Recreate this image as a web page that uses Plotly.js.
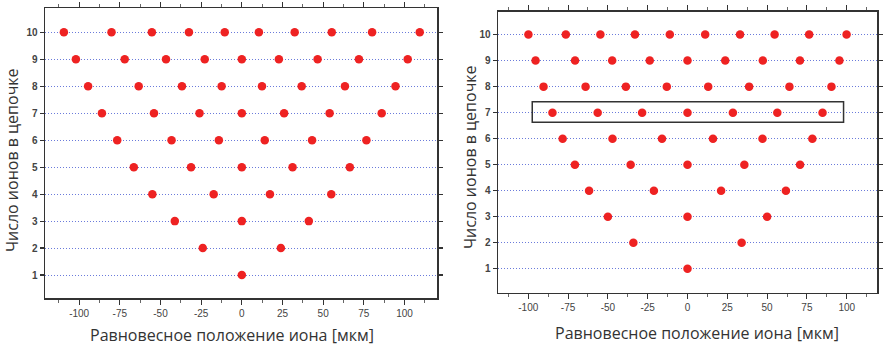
<!DOCTYPE html>
<html>
<head>
<meta charset="utf-8">
<script src="https://cdn.plot.ly/plotly-3.0.1.min.js"></script>
<style>html,body{margin:0;padding:0;background:#fff;}#chart{width:885px;height:345px;}</style>
</head>
<body>
<div id="chart"></div>
<script>
// Number of ions in the chain (row labels)
const ionCounts = [1, 2, 3, 4, 5, 6, 7, 8, 9, 10];

// Left panel: equilibrium positions (µm) for N = 1..10
const posLeft = [
  [0],
  [-24, 24],
  [-41.2, 0, 41.2],
  [-55, -17.3, 17.3, 55],
  [-66.4, -31.2, 0, 31.2, 66.4],
  [-76.6, -43.2, -14.1, 14.1, 43.2, 76.6],
  [-86, -54, -26, 0, 26, 54, 86],
  [-94.5, -63.4, -36.8, -12.4, 12.4, 36.8, 63.4, 94.5],
  [-102, -72, -46.6, -22.8, 0, 22.8, 46.6, 72, 102],
  [-109.4, -80.1, -55.3, -32.5, -10.5, 10.5, 32.5, 55.3, 80.1, 109.4]
];

// Right panel: equilibrium positions (µm) for N = 1..10
const posRight = [
  [0],
  [-34, 34],
  [-50, 0, 50],
  [-61.8, -21.1, 21.1, 61.8],
  [-70.7, -35.7, 0, 35.7, 70.7],
  [-78.4, -47.1, -16, 16, 47.1, 78.4],
  [-84.8, -56.4, -28.5, 0, 28.5, 56.4, 84.8],
  [-90.4, -64, -38.7, -13, 13, 38.7, 64, 90.4],
  [-95.4, -70.6, -47.3, -23.7, 0, 23.7, 47.3, 70.6, 95.4],
  [-99.9, -76.4, -54.7, -33, -11.1, 11.1, 33, 54.7, 76.4, 99.9]
];

// Highlighted chain in right panel
const highlightN = 7;

const xTickVals = [-100, -75, -50, -25, 0, 25, 50, 75, 100];
const xTickText = ['-100', '-75', '-50', '-25', '0', '25', '50', '75', '100'];
const xTitle = 'Равновесное положение иона [мкм]';
const yTitle = 'Число ионов в цепочке';

function flatten(pos) {
  const xs = [], ys = [];
  pos.forEach((row, i) => row.forEach(v => { xs.push(v); ys.push(ionCounts[i]); }));
  return {xs, ys};
}
const L = flatten(posLeft), R = flatten(posRight);

const marker = {color: '#ee2222', size: 8.5};
const traces = [
  {x: L.xs, y: L.ys, type: 'scatter', mode: 'markers', marker, xaxis: 'x', yaxis: 'y', hoverinfo: 'none'},
  {x: R.xs, y: R.ys, type: 'scatter', mode: 'markers', marker, xaxis: 'x2', yaxis: 'y2', hoverinfo: 'none'}
];

const tickFont = {family: 'Liberation Sans, Arial, sans-serif', size: 10, color: '#444'};
function xAxis(domain, range, anchor) {
  return {
    domain, range, anchor,
    tickvals: xTickVals, ticktext: xTickText,
    ticks: 'outside', ticklen: 5, tickwidth: 1, tickcolor: '#333',
    minor: {dtick: 12.5, tick0: 0, ticks: 'outside', ticklen: 3, tickcolor: '#666', showgrid: false},
    showline: true, linecolor: '#333', linewidth: 1.5, mirror: 'allticks',
    showgrid: false, zeroline: false, tickfont: tickFont
  };
}
function yAxis(domain, range, anchor) {
  return {
    domain, range, anchor,
    tickvals: ionCounts, ticktext: ionCounts.map(String),
    ticks: 'outside', ticklen: 4, tickwidth: 1.2, tickcolor: '#333',
    showline: true, linecolor: '#333', linewidth: 1.5, mirror: 'allticks',
    showgrid: true, gridcolor: 'rgba(70,90,210,0.8)', gridwidth: 1, griddash: '1px,2px',
    zeroline: false, tickfont: Object.assign({}, tickFont, {weight: 'bold'})
  };
}

const titleFont = {family: 'Open Sans, Noto Sans, sans-serif', size: 16, color: '#333'};
const layout = {
  width: 885, height: 345,
  margin: {l: 0, r: 0, t: 0, b: 0},
  paper_bgcolor: '#fff', plot_bgcolor: '#fff',
  showlegend: false,
  xaxis: xAxis([45/885, 437/885], [-121, 120], 'y'),
  yaxis: yAxis([1 - 298/345, 1 - 8/345], [0.15, 10.9], 'x'),
  xaxis2: xAxis([498/885, 877/885], [-119, 119], 'y2'),
  yaxis2: yAxis([1 - 292.7/345, 1 - 11.7/345], [0.08, 10.88], 'x2'),
  shapes: [
    {type: 'rect', xref: 'x2', yref: 'y2', x0: -97.5, x1: 98, y0: highlightN - 0.37, y1: highlightN + 0.42,
     line: {color: '#333', width: 1.5}, fillcolor: 'rgba(0,0,0,0)'}
  ],
  annotations: [
    {text: xTitle, xref: 'paper', yref: 'paper', x: 232/885, y: 1 - 335/345, xanchor: 'center', yanchor: 'middle', showarrow: false, font: titleFont},
    {text: xTitle, xref: 'paper', yref: 'paper', x: 697/885, y: 1 - 333/345, xanchor: 'center', yanchor: 'middle', showarrow: false, font: titleFont},
    {text: yTitle, xref: 'paper', yref: 'paper', x: 12/885, y: 1 - 160/345, xanchor: 'center', yanchor: 'middle', textangle: -90, showarrow: false, font: titleFont},
    {text: yTitle, xref: 'paper', yref: 'paper', x: 470/885, y: 1 - 157/345, xanchor: 'center', yanchor: 'middle', textangle: -90, showarrow: false, font: titleFont}
  ]
};

Plotly.newPlot('chart', traces, layout, {staticPlot: true, displayModeBar: false});
</script>
</body>
</html>
